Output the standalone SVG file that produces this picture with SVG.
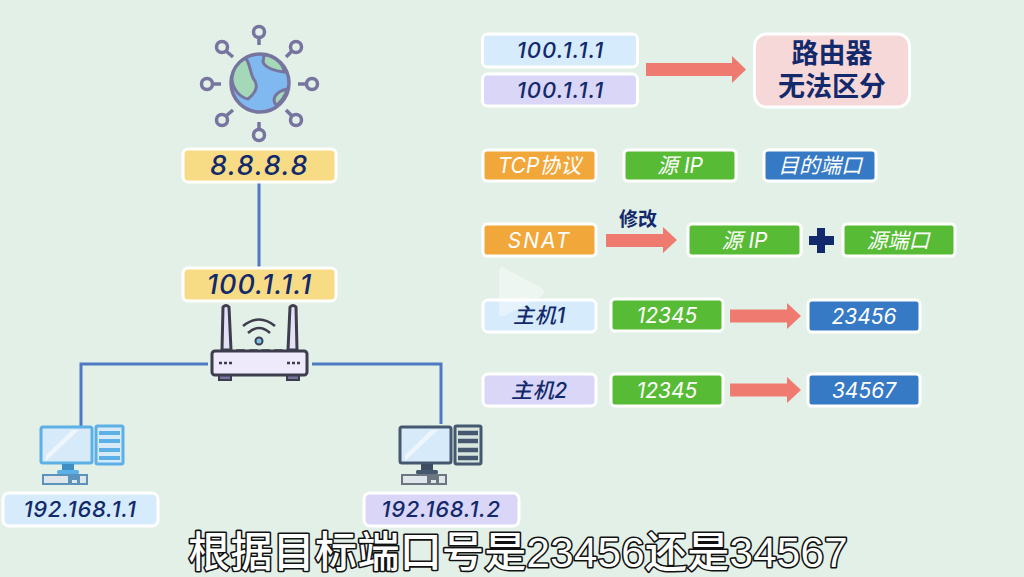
<svg xmlns="http://www.w3.org/2000/svg" width="1024" height="577" viewBox="0 0 1024 577">
<defs>
<style>
.box{stroke:#fff;stroke-width:3}
.y{fill:#f8dc85}.b{fill:#d6ebfb}.p{fill:#d9d6f7}.r{fill:#f7d8d9}.o{fill:#f2a73b}.g{fill:#58bb35}.u{fill:#3679c5}
text{font-family:"Inter","Noto Sans CJK SC",sans-serif;text-anchor:middle}
.d{fill:#12296b;font-style:italic;font-size:22px;font-weight:500;letter-spacing:.7px}
.w{fill:#fff;font-style:italic;font-size:21px;font-weight:400}
.z{fill:#12296b;font-size:27px;font-weight:700;font-style:normal}
.sat{fill:none;stroke:#77759f;stroke-width:3.500}
.ln{fill:none;stroke:#4f79c2;stroke-width:3}
.arr{fill:#ef7a70}
.key{fill:#dfe6ea}
.sub{fill:#fff;stroke:#111;stroke-width:3.2;paint-order:stroke;font-family:"Liberation Sans","Noto Sans CJK SC",sans-serif;font-size:42px;font-weight:500;stroke-linejoin:round;letter-spacing:.3px}
</style>
</defs>
<rect width="1024" height="577" fill="#e2f0e8"/>
<g id="connectors">
<path class="ln" d="M259 182V267"/>
<path class="ln" d="M208 364H81V426"/>
<path class="ln" d="M312 364H441V424"/>
<path class="arr" d="M646 63H732V56L746 69.500L732 83V76H646Z"/>
<path class="arr" d="M606 234H663V227L677 240L663 253V247H606Z"/>
<path class="arr" d="M730 309.500H787V303L801 316L787 329V322.500H730Z"/>
<path class="arr" d="M730 383.500H787V377L801 390L787 403V396.500H730Z"/>
</g>
<g id="globe">
<circle cx="260" cy="83" r="29" fill="#80b8f0" stroke="#77759f" stroke-width="3.500"/>
<path d="M246 58C251 67 250 72 253 78C258 84 258 91 248 99C241 98 233 90 232 80C232 70 238 62 246 58Z" fill="#a5d8b8" stroke="#77759f" stroke-width="3"/>
<path d="M264 55C270 55 283 61 284 72C276 71 266 69 263 62Z" fill="#a5d8b8" stroke="#77759f" stroke-width="3"/>
<path d="M287 89C286 96 280 103 276 105C272 100 274 92 287 89Z" fill="#a5d8b8" stroke="#77759f" stroke-width="3"/>
<g class="sat">
<circle cx="259" cy="32" r="5.500"/><path d="M259 38V45"/>
<circle cx="259" cy="135" r="5.500"/><path d="M259 129V122"/>
<circle cx="207" cy="84" r="5.500"/><path d="M213 84H221"/>
<circle cx="312" cy="84" r="5.500"/><path d="M306 84H298"/>
<circle cx="222" cy="47" r="5.500"/><path d="M226 51L233 57"/>
<circle cx="296" cy="47" r="5.500"/><path d="M292 51L286 57"/>
<circle cx="222" cy="120" r="5.500"/><path d="M226 116L233 110"/>
<circle cx="296" cy="120" r="5.500"/><path d="M292 116L286 110"/>
</g>
</g>
<g id="ip-public"><rect class="box y" x="183" y="149" width="153" height="33" rx="5"/><text class="d" x="259.500" y="175" style="font-size:27px;letter-spacing:1.500px">8.8.8.8</text></g>
<g id="ip-router"><rect class="box y" x="183" y="268" width="153" height="33" rx="5"/><text class="d" x="259.500" y="294" style="font-size:27px;letter-spacing:1px">100.1.1.1</text></g>
<g id="router">
<path d="M223 307Q226 304 229 307L231 350H222Z" fill="#e4e0f8" stroke="#3d3d4d" stroke-width="3" stroke-linejoin="round"/>
<path d="M290 307Q293 304 296 307L297 350H288Z" fill="#e4e0f8" stroke="#3d3d4d" stroke-width="3" stroke-linejoin="round"/>
<path d="M243 326Q259 313 275 326M248 333Q259 323 270 333" fill="none" stroke="#3d3d4d" stroke-width="2.500"/>
<circle cx="259" cy="341" r="3.500" fill="#7ec1ee" stroke="#3d3d4d" stroke-width="2"/>
<rect x="237" y="350" width="7" height="10" fill="#6ebbe8" stroke="#3d3d4d" stroke-width="1.500"/>
<rect x="250" y="350" width="7" height="10" fill="#6ebbe8" stroke="#3d3d4d" stroke-width="1.500"/>
<rect x="262" y="350" width="7" height="10" fill="#6ebbe8" stroke="#3d3d4d" stroke-width="1.500"/>
<rect x="275" y="350" width="7" height="10" fill="#9fcf80" stroke="#3d3d4d" stroke-width="1.500"/>
<rect x="219" y="374" width="12" height="6" fill="#77759f" stroke="#3d3d4d" stroke-width="2"/>
<rect x="287" y="374" width="12" height="6" fill="#77759f" stroke="#3d3d4d" stroke-width="2"/>
<rect x="212" y="351" width="95" height="24" rx="3" fill="#eeeafc" stroke="#3d3d4d" stroke-width="3"/>
<path d="M219 363h3M224 363h3M229 363h3M287 363h3M292 363h3M297 363h3" stroke="#3d3d4d" stroke-width="2.500"/>
</g>
<g id="pc1">
<rect x="41" y="427" width="51" height="36" rx="2" fill="#d6eafa" stroke="#5cb0e6" stroke-width="3"/>
<path d="M46 455L72 430H79L46 461Z" fill="#eef6fc"/>
<rect x="62" y="464" width="12" height="7" fill="#3f8ec4"/><rect x="57" y="470" width="22" height="4" rx="1.500" fill="#5cb0e6"/>
<rect x="42" y="474" width="46" height="11" fill="#5c93bd"/><path class="key" d="M44 476h24v7h-24zM80 476h6v7h-6zM72 480h5v3h-5z"/>
<rect x="96" y="426" width="27" height="38" rx="1.500" fill="#d6eafa" stroke="#5cb0e6" stroke-width="3"/>
<path d="M99 433H120M99 441H120M99 450H120M99 458H120" stroke="#5cb0e6" stroke-width="4"/>
</g>
<g id="pc2">
<rect x="400" y="427" width="51" height="36" rx="2" fill="#d6eafa" stroke="#46586f" stroke-width="3"/>
<path d="M405 455L431 430H438L405 461Z" fill="#eef6fc"/>
<rect x="421" y="464" width="12" height="7" fill="#3d4c60"/><rect x="416" y="470" width="22" height="4" rx="1.500" fill="#46586f"/>
<rect x="401" y="474" width="46" height="11" fill="#6c7680"/><path class="key" d="M403 476h24v7h-24zM439 476h6v7h-6zM431 480h5v3h-5z"/>
<rect x="455" y="426" width="26" height="38" rx="1.500" fill="#d9e6df" stroke="#46586f" stroke-width="3"/>
<path d="M458 433H478M458 441H478M458 450H478M458 458H478" stroke="#46586f" stroke-width="4.500"/>
</g>
<g id="ip-host1"><rect class="box b" x="3" y="493" width="155" height="33" rx="6"/><text class="d" x="80" y="517">192.168.1.1</text></g>
<g id="ip-host2"><rect class="box p" x="364" y="493" width="155" height="33" rx="6"/><text class="d" x="441" y="517">192.168.1.2</text></g>
<g id="addr1"><rect class="box b" x="482.500" y="34" width="155" height="33" rx="5"/><text class="d" x="560.500" y="58" style="letter-spacing:1px">100.1.1.1</text></g>
<g id="addr2"><rect class="box p" x="482.500" y="74" width="155" height="32" rx="5"/><text class="d" x="560.500" y="98" style="letter-spacing:1px">100.1.1.1</text></g>
<g id="verdict"><rect class="box r" x="754.500" y="34" width="155" height="73" rx="12"/><text class="z" x="832" y="63">路由器</text><text class="z" x="832" y="96">无法区分</text></g>
<g id="tcp"><rect class="box o" x="483" y="150" width="113" height="31" rx="4"/><text class="w" x="539.500" y="173">TCP协议</text></g>
<g id="src-ip"><rect class="box g" x="624" y="150" width="112" height="31" rx="4"/><text class="w" x="680" y="173">源 IP</text></g>
<g id="dst-port"><rect class="box u" x="764" y="150" width="112" height="31" rx="4"/><text class="w" x="820" y="173">目的端口</text></g>
<g id="snat"><rect class="box o" x="483" y="224" width="113" height="32" rx="4"/><text class="w" x="539.500" y="248" letter-spacing="2">SNAT</text></g>
<text x="638" y="226" fill="#12296b" font-size="19" font-weight="700">修改</text>
<g id="src-ip2"><rect class="box g" x="688" y="224" width="113" height="32" rx="4"/><text class="w" x="744.500" y="248">源 IP</text></g>
<path id="plus" d="M817 228H825V236H834V245H825V253H817V245H809V236H817Z" fill="#12296b"/>
<g id="src-port"><rect class="box g" x="843" y="224" width="112" height="32" rx="4"/><text class="w" x="898" y="248">源端口</text></g>
<g id="host1"><rect class="box b" x="483" y="300" width="113" height="32" rx="5"/><text class="d" x="539.500" y="323" style="font-size:21px">主机1</text></g>
<g id="p1"><rect class="box g" x="611" y="299" width="112" height="32" rx="4"/><text class="w" x="667" y="323">12345</text></g>
<g id="p1b"><rect class="box u" x="808" y="300" width="112" height="32" rx="4"/><text class="w" x="864" y="324">23456</text></g>
<g id="host2"><rect class="box p" x="483" y="374" width="113" height="32" rx="5"/><text class="d" x="539.500" y="398" style="font-size:21px">主机2</text></g>
<g id="p2"><rect class="box g" x="611" y="374" width="112" height="32" rx="4"/><text class="w" x="667" y="398">12345</text></g>
<g id="p2b"><rect class="box u" x="808" y="374" width="112" height="32" rx="4"/><text class="w" x="864" y="398">34567</text></g>
<path id="play" d="M503 267Q499 267 499 272V313Q499 318 504 316L542 296Q546 292 542 288L504 268Z" fill="#fff" opacity=".4"/>
<text class="sub" x="518" y="567">根据目标端口号是23456还是34567</text>
</svg>
